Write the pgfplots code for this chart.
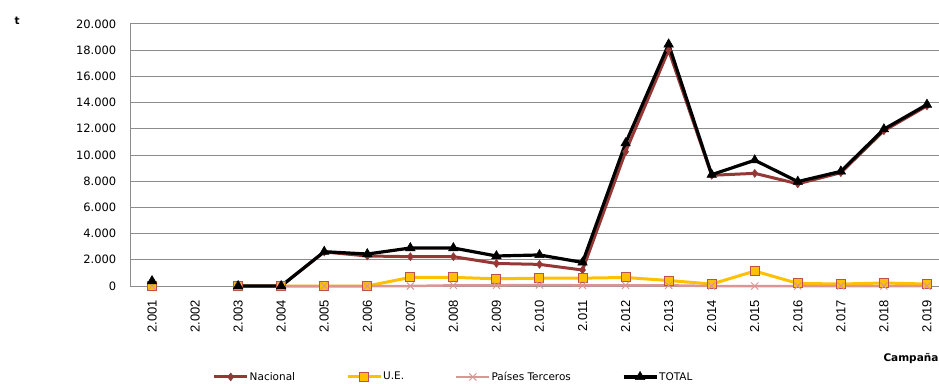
\documentclass[border=0pt]{standalone}
\usepackage{pgfplots}
\pgfplotsset{compat=1.18}
\usepackage{pgfplotstable}
\usepackage{fontspec}
\setmainfont{DejaVu Sans}
\newfontfamily\arialf{Liberation Sans}
\definecolor{nac}{HTML}{953735}
\definecolor{ue}{HTML}{FFC000}
\definecolor{uebord}{HTML}{C0504D}
\definecolor{pt}{HTML}{D99694}
\definecolor{gridc}{HTML}{8C8C8C}

\pgfplotstableread{
x  nac    ue    pt    tot
0  380    0     0     380
1  nan    nan   nan   nan
2  0      0     0     0
3  0      0     0     0
4  2600   0     0     2620
5  2290   0     0     2440
6  2240   660   0     2900
7  2240   660   50    2900
8  1720   550   50    2290
9  1650   600   80    2370
10 1220   600   50    1800
11 10250  650   50    10900
12 18000  420   50    18450
13 8450   150   0     8500
14 8600   1140  0     9600
15 7800   200   0     7970
16 8650   150   0     8750
17 11850  230   0     11970
18 13750  150   0     13850
}\data

\begin{document}
\begin{tikzpicture}
\useasboundingbox (-130.5pt,-97pt) rectangle (808.5pt,286pt);
\begin{axis}[
  scale only axis,
  width=808.5pt, height=262pt,
  xmin=-0.5, xmax=18.28,
  ymin=0, ymax=20000,
  scaled y ticks=false,
  ytick={0,2000,...,20000},
  yticklabels={0,2.000,4.000,6.000,8.000,10.000,12.000,14.000,16.000,18.000,20.000},
  xtick={0,...,18},
  xticklabels={2.001,2.002,2.003,2.004,2.005,2.006,2.007,2.008,2.009,2.010,2.011,2.012,2.013,2.014,2.015,2.016,2.017,2.018,2.019},
  xticklabel style={rotate=90, anchor=east, font=\arialf\fontsize{13}{14}\selectfont, inner sep=0pt},
  yticklabel style={font=\fontsize{11.5}{13}\selectfont, inner sep=0pt},
  major tick length=0pt,
  xtick style={draw=none}, ytick style={draw=none},
  yticklabel shift=14pt,
  xticklabel shift=14pt,
  ymajorgrids,
  grid style={gridc, line width=1pt},
  axis x line*=bottom, axis y line*=left,
  axis line style={gridc, line width=1pt, -},
  unbounded coords=jump,
  clip=false,
  legend columns=4,
  legend style={at={(0.399,-0.347)}, anchor=center, draw=none, fill=none,
    font=\fontsize{10.5}{12}\selectfont,
    nodes={inner sep=1pt},
    /tikz/every even column/.append style={column sep=50pt}},
  legend image code/.code={\draw[mark repeat=2,mark phase=2,#1] plot coordinates {(0pt,0pt) (16.5pt,0pt) (33pt,0pt)};},
]
\addplot[nac, line width=3pt, mark=diamond*, mark size=4pt, mark options={solid, fill=nac, draw=nac, line width=0.5pt}] table[x=x,y=nac] {\data};
\addlegendentry{Nacional}
\addplot[ue, line width=3pt, mark=square*, mark size=4.5pt, mark options={solid, fill=ue, draw=uebord, line width=1pt}] table[x=x,y=ue] {\data};
\addlegendentry{U.E.}
\addplot[pt, line width=2.5pt, mark=x, mark size=5pt, mark options={solid, draw=pt, line width=1pt}] table[x=x,y=pt] {\data};
\addlegendentry{Países Terceros}
\addplot[black, line width=3.2pt, mark=triangle*, mark size=5.5pt, mark options={solid, fill=black, draw=black, line width=0.5pt}] table[x=x,y=tot] {\data};
\addlegendentry{TOTAL}
\node[font=\bfseries\fontsize{10.5}{12}\selectfont, anchor=north west, inner sep=0pt] at (rel axis cs:-0.1435,1.027) {t};
\node[font=\bfseries\fontsize{10.5}{12}\selectfont, anchor=north east, inner sep=0pt] at (rel axis cs:0.9995,-0.2557) {Campaña};
\end{axis}
\end{tikzpicture}
\end{document}
